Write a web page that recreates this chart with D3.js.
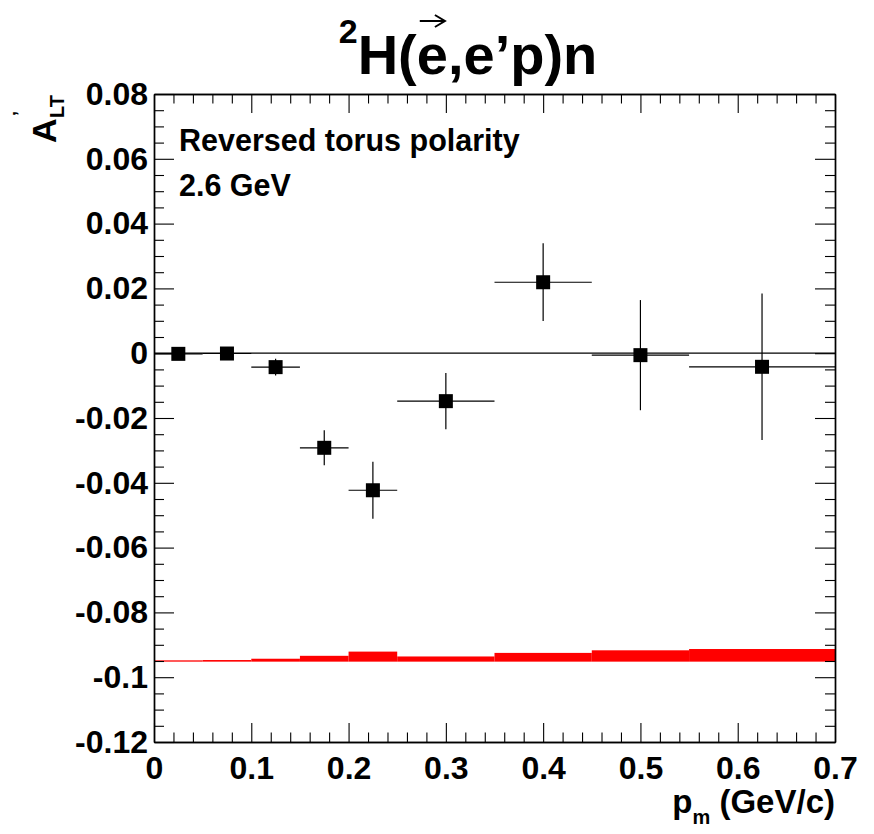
<!DOCTYPE html>
<head>
    <meta charset="utf-8">
    <script src="https://cdn.jsdelivr.net/npm/d3@7/dist/d3.min.js"></script>
    <style type="text/css">
        body { margin: 0; background: #fff; }
        svg { display: block; font-family: "Liberation Sans", Arial, Helvetica, sans-serif; font-weight: bold; }
        .axis path { stroke: #000; stroke-width: 1.4px; }
        .axis line { stroke: #000; stroke-width: 1.1px; }
        .axis text { font-size: 32px; font-family: "Liberation Sans", Arial, sans-serif; font-weight: bold; fill: #000; }
    </style>
</head>
<body>
    <div id="chart"></div>
</body>
</html>

<script type="text/javascript">
    var width = 874, height = 834;

    // measured points
    var pm     = [0.025, 0.075, 0.125, 0.175, 0.225, 0.3, 0.4, 0.5, 0.625];
    var pmErr  = [0.025, 0.025, 0.025, 0.025, 0.025, 0.05, 0.05, 0.05, 0.075];
    var alt    = [-0.0002, -0.0001, -0.0043, -0.0292, -0.0423, -0.0148, 0.0219, -0.0006, -0.0042];
    var altErr = [0.0003, 0.0003, 0.0026, 0.0054, 0.0088, 0.0087, 0.012, 0.017, 0.0226];

    // systematic band (red histogram)
    var sysEdges = [0, 0.05, 0.1, 0.15, 0.2, 0.25, 0.35, 0.45, 0.55, 0.7];
    var sysTop   = [-0.0948, -0.0947, -0.0943, -0.0934, -0.0921, -0.0936, -0.0925, -0.0917, -0.0913];
    var sysBase  = -0.0952;

    // ticks
    var xMajor = [0, 0.1, 0.2, 0.3, 0.4, 0.5, 0.6, 0.7];
    var xLabels = ["0", "0.1", "0.2", "0.3", "0.4", "0.5", "0.6", "0.7"];
    var yMajor = [0.08, 0.06, 0.04, 0.02, 0, -0.02, -0.04, -0.06, -0.08, -0.1, -0.12];
    var yLabels = ["0.08", "0.06", "0.04", "0.02", "0", "-0.02", "-0.04", "-0.06", "-0.08", "-0.1", "-0.12"];
    var xMinor = d3.range(0, 36).map(function(i) { return i * 0.02; }).filter(function(v, i) { return i % 5 != 0; });
    var yMinor = d3.range(0, 41).map(function(i) { return -0.12 + i * 0.005; }).filter(function(v, i) { return i % 4 != 0; });

    var x = d3.scaleLinear().domain([0, 0.7]).range([154, 835]);
    var y = d3.scaleLinear().domain([-0.12, 0.08]).range([742, 94]);

    var svg = d3.select("#chart").append("svg")
        .attr("width", width)
        .attr("height", height);

    // red band
    svg.append("g").selectAll("rect")
        .data(sysTop)
        .enter().append("rect")
        .attr("x", function(d, i) { return x(sysEdges[i]); })
        .attr("width", function(d, i) { return x(sysEdges[i + 1]) - x(sysEdges[i]); })
        .attr("y", function(d) { return y(d); })
        .attr("height", function(d) { return Math.max(1, y(sysBase) - y(d)); })
        .attr("fill", "#ff0000");

    // zero line
    svg.append("line")
        .attr("x1", x(0)).attr("x2", x(0.7))
        .attr("y1", y(0)).attr("y2", y(0))
        .attr("stroke", "#000").attr("stroke-width", 1.2);

    // axes: majors with labels, minors without, mirrored on top/right
    var fmtX = function(d, i) { return xLabels[i]; };
    var fmtY = function(d, i) { return yLabels[i]; };

    svg.append("g").attr("class", "axis")
        .attr("transform", "translate(0," + y(-0.12) + ")")
        .call(d3.axisBottom(x).tickValues(xMajor).tickSize(-19).tickSizeOuter(0).tickPadding(14).tickFormat(fmtX));
    svg.append("g").attr("class", "axis")
        .attr("transform", "translate(0," + y(-0.12) + ")")
        .call(d3.axisBottom(x).tickValues(xMinor).tickSize(-9.5).tickSizeOuter(0).tickFormat(""));
    svg.append("g").attr("class", "axis")
        .attr("transform", "translate(0," + y(0.08) + ")")
        .call(d3.axisTop(x).tickValues(xMajor).tickSize(-19).tickSizeOuter(0).tickFormat(""));
    svg.append("g").attr("class", "axis")
        .attr("transform", "translate(0," + y(0.08) + ")")
        .call(d3.axisTop(x).tickValues(xMinor).tickSize(-9.5).tickSizeOuter(0).tickFormat(""));

    svg.append("g").attr("class", "axis")
        .attr("transform", "translate(" + x(0) + ",0)")
        .call(d3.axisLeft(y).tickValues(yMajor).tickSize(-20).tickSizeOuter(0).tickPadding(6).tickFormat(fmtY));
    svg.append("g").attr("class", "axis")
        .attr("transform", "translate(" + x(0) + ",0)")
        .call(d3.axisLeft(y).tickValues(yMinor).tickSize(-10).tickSizeOuter(0).tickFormat(""));
    svg.append("g").attr("class", "axis")
        .attr("transform", "translate(" + x(0.7) + ",0)")
        .call(d3.axisRight(y).tickValues(yMajor).tickSize(-20).tickSizeOuter(0).tickFormat(""));
    svg.append("g").attr("class", "axis")
        .attr("transform", "translate(" + x(0.7) + ",0)")
        .call(d3.axisRight(y).tickValues(yMinor).tickSize(-10).tickSizeOuter(0).tickFormat(""));

    // error bars
    var pts = svg.append("g").selectAll("g")
        .data(pm)
        .enter().append("g");

    pts.append("line")
        .attr("x1", function(d, i) { return x(d - pmErr[i]); })
        .attr("x2", function(d, i) { return x(d + pmErr[i]); })
        .attr("y1", function(d, i) { return y(alt[i]); })
        .attr("y2", function(d, i) { return y(alt[i]); })
        .attr("stroke", "#000").attr("stroke-width", 1.2);

    pts.append("line")
        .attr("x1", function(d) { return x(d); })
        .attr("x2", function(d) { return x(d); })
        .attr("y1", function(d, i) { return y(alt[i] - altErr[i]); })
        .attr("y2", function(d, i) { return y(alt[i] + altErr[i]); })
        .attr("stroke", "#000").attr("stroke-width", 1.2);

    pts.append("rect")
        .attr("x", function(d) { return x(d) - 7; })
        .attr("y", function(d, i) { return y(alt[i]) - 7; })
        .attr("width", 14).attr("height", 14)
        .attr("fill", "#000");

    // title
    var title = svg.append("text")
        .attr("x", 468).attr("y", 62)
        .attr("text-anchor", "middle")
        .style("font-size", "56px");
    title.append("tspan").attr("dy", "-0.55em").style("font-size", "34px").text("2");
    title.append("tspan").attr("dy", "0.55em").text("H(");
    var eTitle = title.append("tspan").text("e");
    title.append("tspan").text(",e\u2019p)n");

    // arrow over the polarised electron
    var eBox = eTitle.node().getExtentOfChar(0);
    var ax0 = eBox.x + 3, ax1 = eBox.x + eBox.width - 3, ay = 21;
    svg.append("path")
        .attr("d", "M" + ax0 + "," + ay + "H" + ax1 + "M" + (ax1 - 10) + "," + (ay - 6) + "L" + ax1 + "," + ay + "L" + (ax1 - 10) + "," + (ay + 6))
        .attr("fill", "none").attr("stroke", "#000").attr("stroke-width", 2);

    // y title A'_LT
    var yt = svg.append("g").attr("transform", "translate(56,143) rotate(-90)");
    yt.append("text").attr("x", 0).attr("y", 0).style("font-size", "34px").text("A");
    yt.append("text").attr("x", 25).attr("y", 8).style("font-size", "20px").text("LT");
    yt.append("text").attr("x", 27).attr("y", -30).style("font-size", "18px").text("\u2019");

    // x title
    var xt = svg.append("text")
        .attr("x", 835).attr("y", 813)
        .attr("text-anchor", "end")
        .style("font-size", "33px");
    xt.append("tspan").text("p");
    xt.append("tspan").attr("dy", 11).style("font-size", "20px").text("m");
    xt.append("tspan").attr("dy", -11).text(" (GeV/c)");

    // labels inside the frame
    svg.append("text").attr("x", 179).attr("y", 151).style("font-size", "30.5px").text("Reversed torus polarity");
    svg.append("text").attr("x", 179).attr("y", 196).style("font-size", "30.5px").text("2.6 GeV");
</script>
